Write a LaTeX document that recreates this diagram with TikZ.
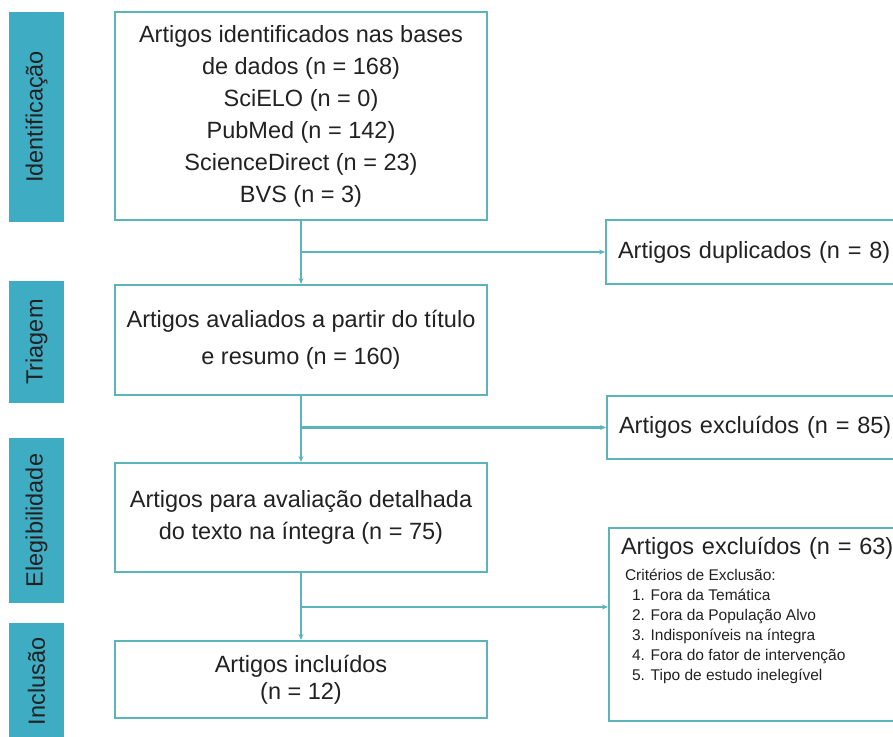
\documentclass[tikz,border=0pt]{standalone}
\usepackage{fontspec}
\setmainfont{Liberation Sans}
\usetikzlibrary{arrows.meta}

\definecolor{barteal}{RGB}{62,173,196}
\definecolor{lineteal}{RGB}{92,180,186}
\definecolor{txtgray}{RGB}{34,34,34}

\begin{document}
\begin{tikzpicture}[x=1pt,y=-1pt,
  phase/.style={fill=barteal,rotate=90,minimum height=55pt,inner sep=0pt,text=txtgray,font=\fontsize{23.5pt}{28pt}\selectfont},
  mainbox/.style={draw=lineteal,line width=2pt,fill=white,minimum width=372pt,inner sep=0pt,align=center,text=txtgray,font=\fontsize{23.5pt}{32pt}\selectfont},
  sidebox/.style={draw=lineteal,line width=2pt,fill=white,anchor=north west,text width=276pt,inner xsep=12pt,inner ysep=0pt,align=left,text=txtgray,font=\fontsize{23.5pt}{28pt}\selectfont},
  flow/.style={draw=lineteal,line width=2.2pt,-{Stealth[length=6pt,width=5pt]}}]
\useasboundingbox (0,0) rectangle (893,736);
\clip (0,0) rectangle (893,736);

% fases
\node[phase,minimum width=210pt] (fid) at (36.5,117) {Identificação};
\node[phase,minimum width=122pt] (ftr) at (36.5,342) {Triagem};
\node[phase,minimum width=165pt] (fel) at (36.5,520.5) {Elegibilidade};
\node[phase,minimum width=117pt] (fin) at (36.5,681.5) {Inclusão};

% caixas principais
\node[mainbox,minimum height=208pt] (ident) at (301,116) {Artigos identificados nas bases\\de dados (n = 168)\\SciELO (n = 0)\\PubMed (n = 142)\\ScienceDirect (n = 23)\\BVS (n = 3)};
\node[mainbox,minimum height=110pt] (triagem) at (301,340) {Artigos avaliados a partir do título\\[5pt]e resumo (n = 160)};
\node[mainbox,minimum height=109pt] (elig) at (301,517.5) {Artigos para avaliação detalhada\\do texto na íntegra (n = 75)};
\node[mainbox,minimum height=77pt] (incl) at (301,679.5) {Artigos incluídos\\[-5pt](n = 12)};

% caixas laterais
\node[sidebox,minimum height=64pt] (dup) at (605,219) {Artigos duplicados (n = 8)};
\node[sidebox,minimum height=63pt] (exc) at (606,395) {Artigos excluídos (n = 85)};
\node[sidebox,minimum height=193pt] (crit) at (608,527) {\parbox[c][193pt][t]{276pt}{\raggedright
  \rule{0pt}{26pt}Artigos excluídos (n = 63)\\[6pt]
  {\fontsize{15.5pt}{20pt}\selectfont \spaceskip=0pt \xspaceskip=0pt
  \hspace*{4pt}Critérios de Exclusão:\\
  \hspace*{11pt}1. Fora da Temática\\
  \hspace*{11pt}2. Fora da População Alvo\\
  \hspace*{11pt}3. Indisponíveis na íntegra\\
  \hspace*{11pt}4. Fora do fator de intervenção\\
  \hspace*{11pt}5. Tipo de estudo inelegível\par}}};

% setas
\coordinate (ramo) at (301,607);
\draw[flow] (ident) -- (triagem);
\draw[flow] (triagem) -- (elig);
\draw[flow] (elig) -- (incl);
\draw[flow] (ident.south |- dup.west) -- (dup.west);
\draw[flow] (triagem.south |- exc.west) -- (exc.west);
\draw[flow] (ramo) -- (ramo -| crit.west);

\end{tikzpicture}
\end{document}
